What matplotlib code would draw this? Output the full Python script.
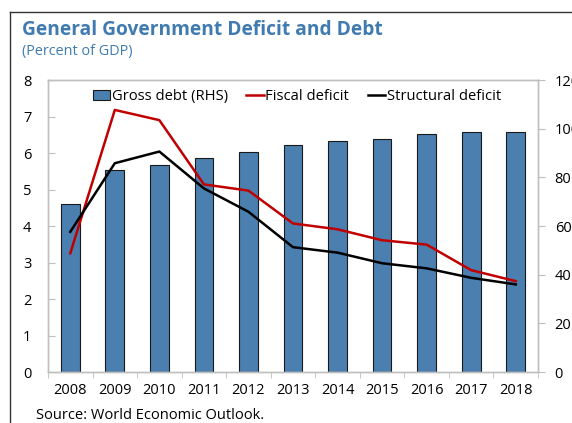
import matplotlib
matplotlib.use("Agg")
import matplotlib.pyplot as plt
from matplotlib.lines import Line2D
from matplotlib.patches import Rectangle
import numpy as np

years = ["2008", "2009", "2010", "2011", "2012", "2013", "2014", "2015", "2016", "2017", "2018"]
gross_debt = [68.9, 82.9, 85.2, 88.1, 90.5, 93.4, 94.9, 95.8, 97.8, 98.5, 98.5]
fiscal_deficit = [3.25, 7.18, 6.90, 5.14, 4.97, 4.07, 3.91, 3.61, 3.49, 2.79, 2.49]
structural_deficit = [3.84, 5.72, 6.04, 5.03, 4.39, 3.42, 3.27, 2.98, 2.84, 2.58, 2.40]
left_ticks = [0, 1, 2, 3, 4, 5, 6, 7, 8]
right_ticks = [0, 20, 40, 60, 80, 100, 120]

plt.rcParams["font.family"] = ["Open Sans", "DejaVu Sans"]

W, H = 572, 423
fig = plt.figure(figsize=(W / 100, H / 100), dpi=100)

# outer frame (left and top edges visible)
fig.add_artist(Line2D([10 / W, 10 / W], [0, 1 - 12 / H], color="#333333", lw=1.0,
                      transform=fig.transFigure))
fig.add_artist(Line2D([10 / W, 1], [1 - 12 / H, 1 - 12 / H], color="#333333", lw=1.0,
                      transform=fig.transFigure))

fig.text(22 / W, 1 - 30 / H, "General Government Deficit and Debt", color="#3f7bb0",
         fontsize=13.8, fontweight="bold", va="center", ha="left")
fig.text(22 / W, 1 - 52 / H, "(Percent of GDP)", color="#3f7bb0",
         fontsize=10.4, va="center", ha="left")

ax_l, ax_b = 48 / W, (H - 372) / H
ax_w, ax_h = 490 / W, 292 / H
ax = fig.add_axes([ax_l, ax_b, ax_w, ax_h])
ax2 = ax.twinx()

x = np.arange(len(years))
bar_color = "#4a7fb0"
ax2.bar(x, gross_debt, width=0.42, color=bar_color, edgecolor="#1a1a1a", linewidth=0.8, zorder=1)
ax2.set_ylim(0, 120)
ax2.set_yticks(right_ticks)

ax.set_zorder(ax2.get_zorder() + 1)
ax.patch.set_visible(False)
ax.plot(x, fiscal_deficit, color="#c00000", lw=1.8, zorder=3)
ax.plot(x, structural_deficit, color="#000000", lw=1.8, zorder=3)
ax.set_ylim(0, 8)
ax.set_yticks(left_ticks)
ax.set_xlim(-0.5, len(years) - 0.5)
ax.set_xticks(x)
ax.set_xticklabels(years)
ax.set_xticks(np.arange(len(years) + 1) - 0.5, minor=True)

spine_c = "#bfbfbf"
for a in (ax, ax2):
    for s in a.spines.values():
        s.set_color(spine_c)
        s.set_linewidth(1.0)

ax.tick_params(axis="y", direction="in", length=5, color=spine_c, labelsize=10.5, pad=12,
               labelcolor="#000000")
ax.tick_params(axis="x", which="major", length=0, labelsize=10.5, pad=8)
ax.tick_params(axis="x", which="minor", direction="out", length=4, color=spine_c)
ax2.tick_params(axis="y", direction="out", length=5, color=spine_c, labelsize=10.5, pad=7)

handles = [
    Rectangle((0, 0), 1, 1, facecolor=bar_color, edgecolor="#1a1a1a", linewidth=0.8),
    Line2D([], [], color="#c00000", lw=1.8),
    Line2D([], [], color="#000000", lw=1.8),
]
ax.legend(handles, ["Gross debt (RHS)", "Fiscal deficit", "Structural deficit"],
          loc="upper center", bbox_to_anchor=(0.508, 1.0), ncol=3, frameon=False,
          fontsize=10.6, handlelength=1.2, handletextpad=0.1, columnspacing=1.25,
          borderaxespad=0.2)

fig.text(36 / W, 1 - 415 / H, "Source: World Economic Outlook.", fontsize=10.5,
         va="center", ha="left")

fig.savefig("out.png", dpi=100)
